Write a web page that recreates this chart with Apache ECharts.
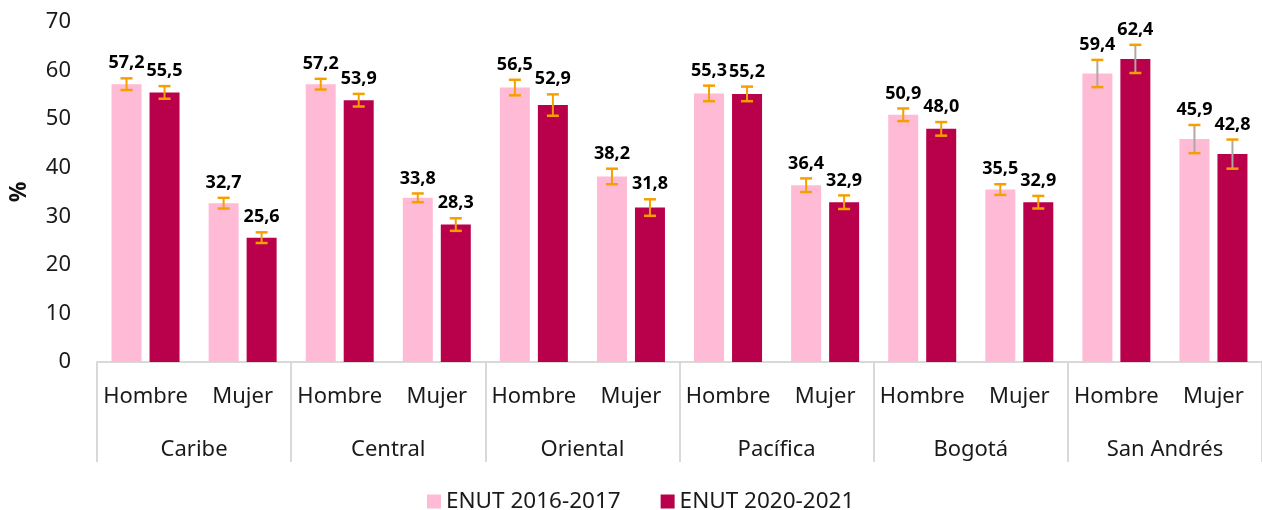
<!DOCTYPE html>
<html>
<head>
    <meta charset="utf-8"/>
    <title>ENUT por región y sexo</title>
    <script src="https://cdn.jsdelivr.net/npm/echarts@6/dist/echarts.min.js"></script>
    <style>
        html, body { margin: 0; padding: 0; background: #fff; }
        #chart { width: 1262px; height: 510px; }
    </style>
</head>
<body>
<div id="chart"></div>
<script>
    // datos
    var sexos = ['Hombre', 'Mujer', 'Hombre', 'Mujer', 'Hombre', 'Mujer', 'Hombre', 'Mujer', 'Hombre', 'Mujer', 'Hombre', 'Mujer'];
    var regiones = ['Caribe', 'Central', 'Oriental', 'Pacífica', 'Bogotá', 'San Andrés'];
    var serieNames = ['ENUT 2016-2017', 'ENUT 2020-2021'];
    var val2016 = [57.2, 32.7, 57.2, 33.8, 56.5, 38.2, 55.3, 36.4, 50.9, 35.5, 59.4, 45.9];
    var val2020 = [55.5, 25.6, 53.9, 28.3, 52.9, 31.8, 55.2, 32.9, 48.0, 32.9, 62.4, 42.8];
    // margen de error (+/-)
    var err2016 = [1.2, 1.1, 1.1, 0.9, 1.6, 1.6, 1.6, 1.4, 1.3, 1.1, 2.8, 2.9];
    var err2020 = [1.3, 1.1, 1.3, 1.3, 2.2, 1.7, 1.5, 1.4, 1.4, 1.3, 2.9, 3.0];
    var yTicks = [0, 10, 20, 30, 40, 50, 60, 70];

    var colors = ['#FFBAD5', '#B8004B'];
    var errColor = '#F5A000';
    var FONT = 'Noto Sans';
    var BAR_W = 30, BAR_GAP = 8;

    var fmt = function (v) {
        return v.toFixed(1).replace('.', ',');
    };

    var errData = function (vals, errs) {
        var d = [];
        for (var i = 0; i < vals.length; i++) {
            d.push([i, vals[i] - errs[i], vals[i] + errs[i], vals[i]]);
        }
        return d;
    };

    // barras de error + etiqueta encima
    var makeErrorRender = function (side) {
        return function (params, api) {
            var idx = api.value(0);
            var lo = api.coord([idx, api.value(1)]);
            var hi = api.coord([idx, api.value(2)]);
            var x = lo[0] + side * (BAR_W + BAR_GAP) / 2;
            var cap = 6;
            var stemColor = idx >= 10 ? '#B0A8A0' : errColor;
            var st = {stroke: errColor, lineWidth: 2.5};
            return {
                type: 'group',
                children: [
                    {type: 'line', shape: {x1: x, y1: lo[1], x2: x, y2: hi[1]}, style: {stroke: stemColor, lineWidth: 2}},
                    {type: 'line', shape: {x1: x - cap, y1: hi[1], x2: x + cap, y2: hi[1]}, style: st},
                    {type: 'line', shape: {x1: x - cap, y1: lo[1], x2: x + cap, y2: lo[1]}, style: st},
                    {
                        type: 'text',
                        x: x,
                        y: hi[1] - 15,
                        style: {
                            text: fmt(api.value(3)),
                            fill: '#000',
                            font: 'bold 18px "' + FONT + '"',
                            align: 'center',
                            verticalAlign: 'middle'
                        }
                    }
                ]
            };
        };
    };

    var chart = echarts.init(document.getElementById('chart'));
    var option = {
        animation: false,
        textStyle: {fontFamily: FONT},
        grid: {left: 97, right: -8, top: 22, bottom: 148, containLabel: false},
        legend: {
            data: serieNames,
            left: 422,
            top: 485,
            icon: 'rect',
            itemWidth: 14,
            itemHeight: 14,
            itemGap: 40,
            textStyle: {fontSize: 22.5, color: '#1a1a1a', fontFamily: FONT}
        },
        xAxis: [
            {
                type: 'category',
                data: sexos,
                axisLine: {lineStyle: {color: '#D9D9D9', width: 2}},
                axisTick: {show: false},
                axisLabel: {fontSize: 22, color: '#1a1a1a', margin: 24, interval: 0}
            },
            {
                type: 'category',
                data: regiones,
                position: 'bottom',
                axisLine: {show: false},
                axisTick: {show: true, length: 100, lineStyle: {color: '#D9D9D9', width: 2}},
                axisLabel: {fontSize: 22, color: '#1a1a1a', margin: 77, interval: 0}
            }
        ],
        yAxis: {
            type: 'value',
            min: 0,
            max: 70,
            interval: 10,
            name: '%',
            nameLocation: 'middle',
            nameGap: 66,
            nameTextStyle: {fontSize: 23, fontWeight: 'bold', color: '#111'},
            axisLine: {show: false},
            axisTick: {show: false},
            splitLine: {show: false},
            axisLabel: {
                fontSize: 22, color: '#1a1a1a', margin: 26,
                formatter: function (v) { return yTicks.indexOf(v) >= 0 ? String(v) : ''; }
            }
        },
        series: [
            {
                name: serieNames[0],
                type: 'bar',
                data: val2016,
                barWidth: BAR_W,
                barGap: (BAR_GAP / BAR_W * 100) + '%',
                itemStyle: {color: colors[0]}
            },
            {
                name: serieNames[1],
                type: 'bar',
                data: val2020,
                barWidth: BAR_W,
                itemStyle: {color: colors[1]}
            },
            {
                type: 'custom',
                renderItem: makeErrorRender(-1),
                data: errData(val2016, err2016),
                encode: {x: 0, y: [1, 2]},
                z: 5
            },
            {
                type: 'custom',
                renderItem: makeErrorRender(1),
                data: errData(val2020, err2020),
                encode: {x: 0, y: [1, 2]},
                z: 5
            }
        ]
    };
    chart.setOption(option);
</script>
</body>
</html>
